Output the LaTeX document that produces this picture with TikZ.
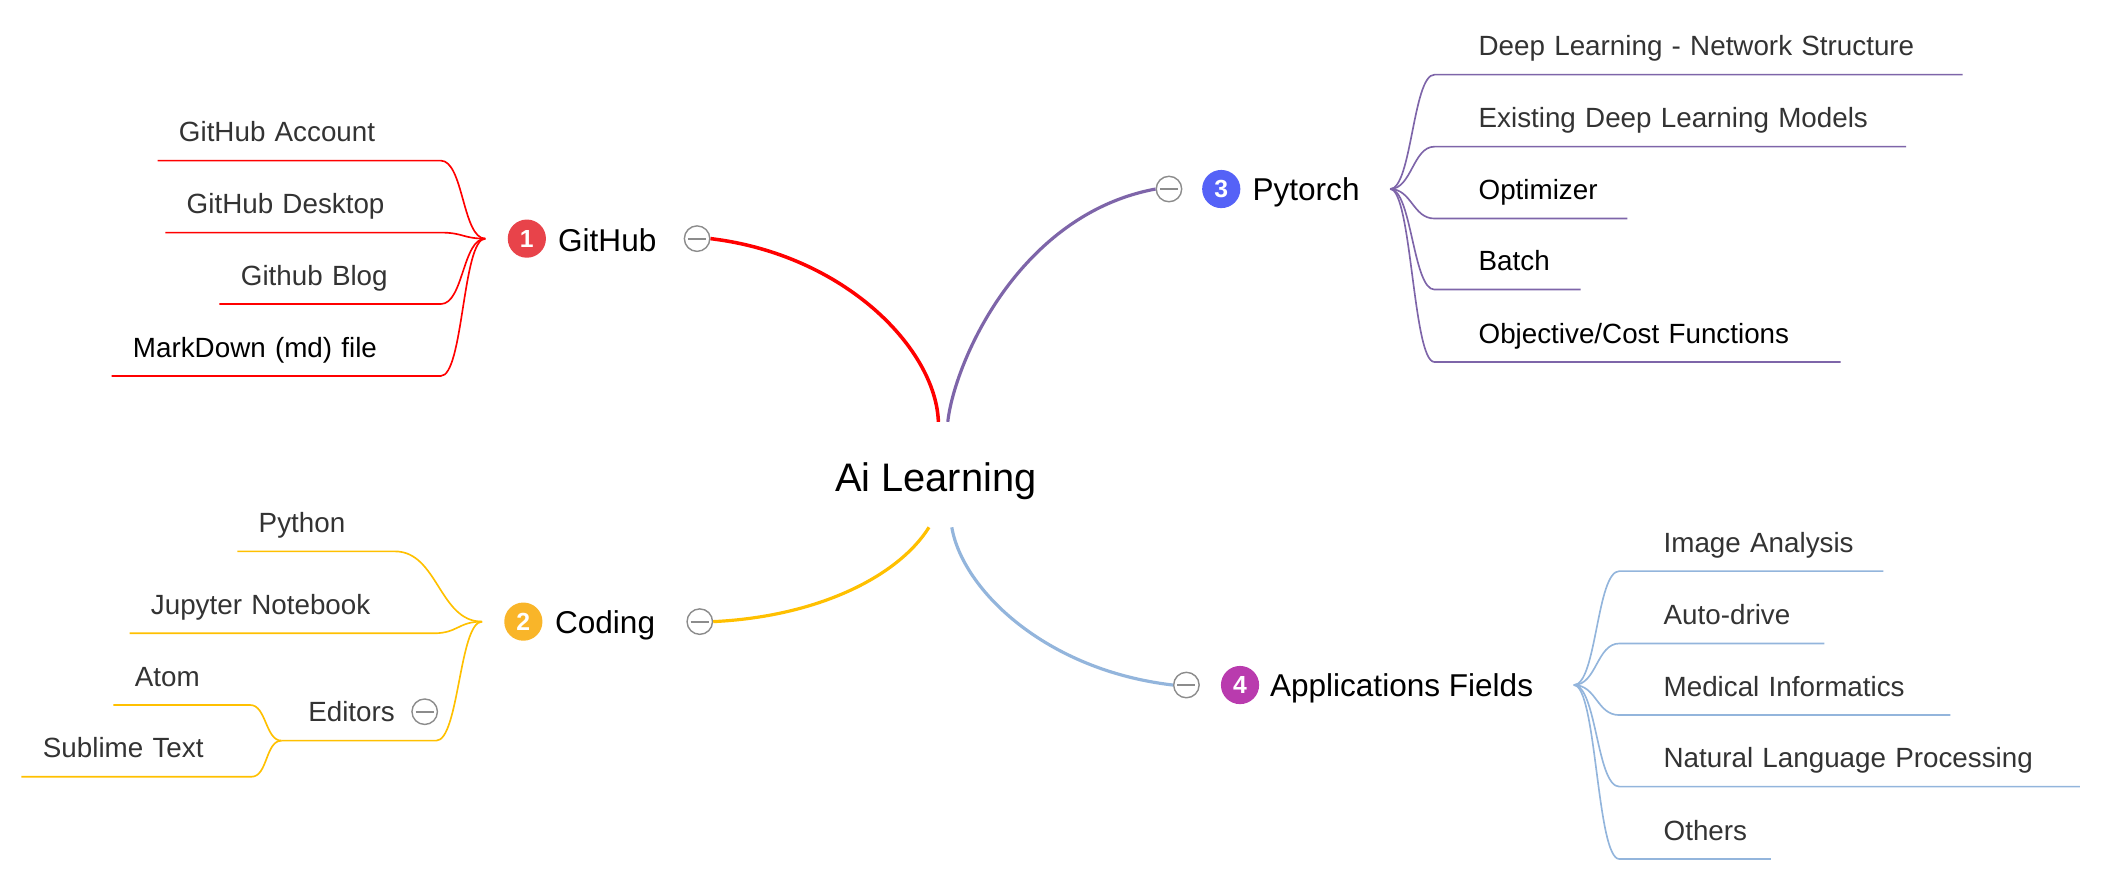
\documentclass[tikz,border=0pt]{standalone}
\usepackage{fontspec}
\setmainfont{Liberation Sans}
\definecolor{rojo}{HTML}{FF0000}
\definecolor{morado}{HTML}{7E65A9}
\definecolor{amarillo}{HTML}{FFC000}
\definecolor{celeste}{HTML}{93B5DC}
\definecolor{bRojo}{HTML}{E8434A}
\definecolor{bAmarillo}{HTML}{F9B529}
\definecolor{bAzul}{HTML}{5562F7}
\definecolor{bMagenta}{HTML}{B93BAE}
\definecolor{gris}{HTML}{333333}
\definecolor{grisc}{HTML}{8C8C8C}

\begin{document}
\begin{tikzpicture}[x=0.02cm, y=-0.02cm,
	centro/.style={anchor=base, inner sep=0pt, text height=1.04cm, text depth=0.52cm, font=\fontsize{16.9}{20}\selectfont},
	tema/.style={anchor=base west, inner sep=0pt, font=\fontsize{13.4}{16}\selectfont},
	num/.style={circle, fill=#1, text=white, minimum size=0.57cm, inner sep=0pt, font=\bfseries\fontsize{10.5}{12}\selectfont},
	menos/.style={circle, draw=grisc, fill=white, line width=0.6pt, minimum size=0.38cm, inner sep=0pt,
		path picture={\draw[grisc, line width=0.8pt] ([xshift=-0.135cm]path picture bounding box.center) -- ([xshift=0.135cm]path picture bounding box.center);}},
	hoja/.style={anchor=south west, inner xsep=0pt, inner ysep=0.28cm, outer sep=0pt, text depth=0pt, text width=#1, align=left, font=\fontsize{11.8}{14}\selectfont, text=gris},
	hojaI/.style={hoja=#1, execute at begin node={\hspace*{0.32cm}}},
	hojaD/.style={hoja=#1, execute at begin node={\hspace*{0.66cm}}},
	rama/.style={line width=1.35pt},
	fina/.style={line width=0.7pt}]
	\useasboundingbox (0,0) rectangle (1568,656);
	\node [centro] (ai) at (698,367) {Ai Learning};
% GITHUB
	\node [num=bRojo] (n1) at (393,178) {1};
	\node [tema] (t1) at (416,187.5) {GitHub};
	\node [menos] (m1) at (520,178) {};
	\coordinate (j1) at (362,178);
	\draw [rojo, rama, line width=1.5pt] ([xshift=0.04cm]ai.north) .. controls (698,260) and (630,190) .. (m1.east);
	\node [hojaI=4.226cm] (cuenta) at (117.5,119.8) {GitHub Account};
	\node [hojaI=4.11cm] (escritorio) at (123.3,173.5) {GitHub Desktop};
	\node [hojaI=3.302cm] (blog) at (163.7,226.8) {Github Blog};
	\node [hojaI=4.912cm, text=black] (md) at (83.2,280.5) {MarkDown (md) file};
	\draw [rojo, fina] (j1) .. controls +(-17,0) and +(17,0) .. (cuenta.south east) -- (cuenta.south west);
	\draw [rojo, fina] (j1) .. controls +(-17,0) and +(17,0) .. (escritorio.south east) -- (escritorio.south west);
	\draw [rojo, fina] (j1) .. controls +(-17,0) and +(17,0) .. (blog.south east) -- (blog.south west);
	\draw [rojo, fina] (j1) .. controls +(-17,0) and +(17,0) .. (md.south east) -- (md.south west);
% CODING
	\node [num=bAmarillo] (n2) at (390.4,463.7) {2};
	\node [tema] (t2) at (413.7,472.5) {Coding};
	\node [menos] (m2) at (522,463.7) {};
	\coordinate (j2) at (359.6,463.7);
	\draw [amarillo, rama] ([xshift=-0.1cm]ai.south) .. controls (670,430) and (610,460) .. (m2.east);
	\node [hojaI=2.352cm] (python) at (177,411.3) {Python};
	\node [hojaI=4.54cm] (jupyter) at (96.6,472.4) {Jupyter Notebook};
	\node [hojaI=2.308cm] (editores) at (210,552.5) {\hspace*{0.08cm}Editors};
	\node [menos] (me) at (316.8,530.9) {};
	\node [hojaI=2.042cm] (atom) at (84.6,525.9) {Atom};
	\node [hojaI=3.434cm] (sublime) at (16,579.4) {Sublime Text};
	\draw [amarillo, fina] (j2) .. controls +(-32,0) and +(32,0) .. (python.south east) -- (python.south west);
	\draw [amarillo, fina] (j2) .. controls +(-18,0) and +(18,0) .. (jupyter.south east) -- (jupyter.south west);
	\draw [amarillo, fina] (j2) .. controls +(-17,0) and +(17,0) .. (editores.south east) -- (editores.south west);
	\draw [amarillo, fina] (editores.south west) .. controls +(-12,0) and +(12,0) .. (atom.south east) -- (atom.south west);
	\draw [amarillo, fina] (editores.south west) .. controls +(-12,0) and +(12,0) .. (sublime.south east) -- (sublime.south west);
% PYTORCH
	\node [menos] (m3) at (872,141) {};
	\node [num=bAzul] (n3) at (911,141) {3};
	\node [tema] (t3) at (934,149.5) {Pytorch};
	\coordinate (j3) at (1037,141);
	\draw [morado, rama] ([xshift=0.18cm]ai.north) .. controls (712,270) and (760,160) .. (m3.west);
	\node [hojaD=7.88cm] (redes) at (1070,55.7) {Deep Learning - Network Structure};
	\node [hojaD=7.04cm] (modelos) at (1070,109.4) {Existing Deep Learning Models};
	\node [hojaD=2.88cm, text=black] (optim) at (1070,163) {Optimizer};
	\node [hojaD=2.18cm, text=black] (lote) at (1070,216) {Batch};
	\node [hojaD=6.06cm, text=black] (costo) at (1070,270) {Objective/Cost Functions};
	\draw [morado, fina] (j3) .. controls +(16,0) and +(-16,0) .. (redes.south west) -- (redes.south east);
	\draw [morado, fina] (j3) .. controls +(16,0) and +(-16,0) .. (modelos.south west) -- (modelos.south east);
	\draw [morado, fina] (j3) .. controls +(16,0) and +(-16,0) .. (optim.south west) -- (optim.south east);
	\draw [morado, fina] (j3) .. controls +(16,0) and +(-16,0) .. (lote.south west) -- (lote.south east);
	\draw [morado, fina] (j3) .. controls +(16,0) and +(-16,0) .. (costo.south west) -- (costo.south east);
% APLICACIONES
	\node [menos] (m4) at (885,511) {};
	\node [num=bMagenta] (n4) at (925,511) {4};
	\node [tema] (t4) at (947,519.5) {Applications Fields};
	\coordinate (j4) at (1174,511);
	\draw [celeste, rama] ([xshift=0.24cm]ai.south) .. controls (718,440) and (780,500) .. (m4.west);
	\node [hojaD=3.94cm] (imagen) at (1208,426) {Image Analysis};
	\node [hojaD=3.06cm] (auto) at (1208,480) {Auto-drive};
	\node [hojaD=4.94cm] (medica) at (1208,533.4) {Medical Informatics};
	\node [hojaD=6.872cm] (nlp) at (1208,586.8) {Natural Language Processing};
	\node [hojaD=2.26cm] (otros) at (1208,640.8) {Others};
	\draw [celeste, fina] (j4) .. controls +(17,0) and +(-17,0) .. (imagen.south west) -- (imagen.south east);
	\draw [celeste, fina] (j4) .. controls +(17,0) and +(-17,0) .. (auto.south west) -- (auto.south east);
	\draw [celeste, fina] (j4) .. controls +(17,0) and +(-17,0) .. (medica.south west) -- (medica.south east);
	\draw [celeste, fina] (j4) .. controls +(17,0) and +(-17,0) .. (nlp.south west) -- (nlp.south east);
	\draw [celeste, fina] (j4) .. controls +(17,0) and +(-17,0) .. (otros.south west) -- (otros.south east);
\end{tikzpicture}
\end{document}
